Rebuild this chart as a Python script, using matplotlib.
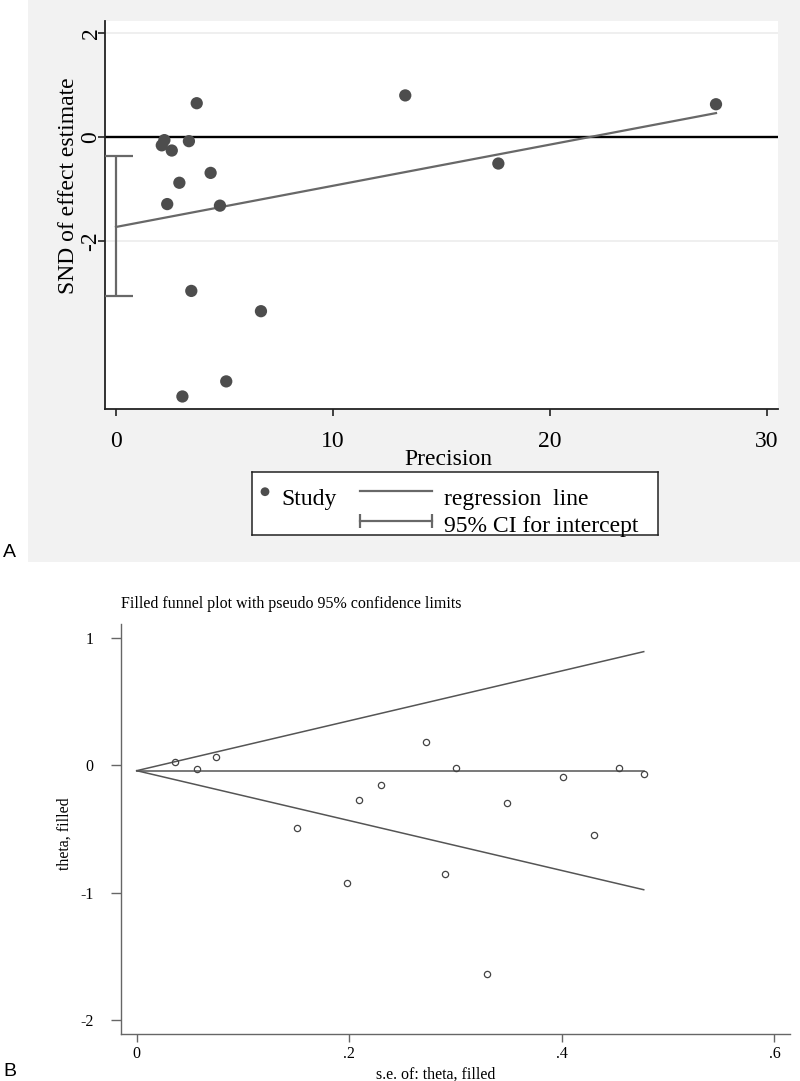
import numpy as np
import matplotlib
matplotlib.use('Agg')
import matplotlib.pyplot as plt
from matplotlib.patches import Rectangle
from matplotlib.ticker import FuncFormatter

plt.rcParams['font.family'] = ['Liberation Serif', 'DejaVu Serif']
plt.rcParams['axes.unicode_minus'] = False

# Panel A: Egger (Galbraith-type) regression data
precision = [3.72, 2.23, 2.11, 2.57, 3.36, 4.36, 2.92, 2.36, 4.79, 3.47,
             6.68, 5.08, 3.06, 13.33, 17.62, 27.65]
snd = [0.65, -0.06, -0.16, -0.26, -0.08, -0.69, -0.88, -1.29, -1.32, -2.96,
       -3.35, -4.70, -4.99, 0.80, -0.51, 0.63]
egger_intercept = -1.73
egger_slope = 0.0792
intercept_ci = [-3.06, -0.365]

# Panel B: filled funnel plot data
se_theta = [0.036, 0.057, 0.075, 0.151, 0.209, 0.230, 0.272, 0.300, 0.348,
            0.401, 0.430, 0.454, 0.477, 0.198, 0.290, 0.330]
theta = [0.024, -0.031, 0.068, -0.495, -0.270, -0.155, 0.181, -0.021, -0.294,
         -0.094, -0.550, -0.019, -0.066, -0.922, -0.851, -1.639]
theta_pooled = -0.042

W, H = 800, 1081


def box(x0, y0, x1, y1):
    # pixel box (top-left origin) -> figure fraction rect
    return [x0 / W, 1 - y1 / H, (x1 - x0) / W, (y1 - y0) / H]


def fx(x):
    return x / W


def fy(y):
    return 1 - y / H


fig = plt.figure(figsize=(8, 10.81), dpi=100, facecolor='white')

# gray graph region behind panel A
fig.patches.append(Rectangle((28 / W, fy(562)), (W - 28) / W, 562 / H,
                             transform=fig.transFigure, facecolor='#f2f2f2',
                             edgecolor='none', zorder=-5))

dot_col = '#4d4d4d'
line_col = '#686868'
fsA = 17

# ---------------- Panel A ----------------
axA = fig.add_axes(box(105, 21, 778, 409))
axA.set_facecolor('white')
axA.set_xlim(-0.507, 30.507)
axA.set_ylim(-5.231, 2.231)
axA.set_yticks([-2, 0, 2])
axA.set_xticks([0, 10, 20, 30])
axA.grid(axis='y', color='#ececec', lw=1.2)
axA.set_axisbelow(True)
for s in ['top', 'right']:
    axA.spines[s].set_visible(False)
for s in ['left', 'bottom']:
    axA.spines[s].set_color('#222222')
    axA.spines[s].set_linewidth(1.3)
axA.tick_params(axis='x', direction='out', length=5, width=1.2, color='#222222',
                labelsize=fsA, pad=11)
axA.tick_params(axis='y', direction='out', length=5, width=1.2, color='#222222',
                labelsize=fsA, pad=-2.5)
for lab in axA.get_yticklabels():
    lab.set_rotation(90)
    lab.set_va('center')

axA.axhline(0, color='black', lw=1.7, zorder=2)
xr = np.array([0, max(precision)])
axA.plot(xr, egger_intercept + egger_slope * xr, color=line_col, lw=1.6, zorder=3)
ci_mid = (intercept_ci[0] + intercept_ci[1]) / 2
ci_half = (intercept_ci[1] - intercept_ci[0]) / 2
axA.errorbar([0], [ci_mid], yerr=[ci_half], fmt='none', ecolor=line_col,
             elinewidth=1.6, capsize=12, capthick=1.6, zorder=3)
axA.scatter(precision, snd, s=78, color=dot_col, edgecolors='none', zorder=4)

fig.text(fx(68), fy(186), 'SND of effect estimate', rotation=90, ha='center',
         va='center', fontsize=fsA)
fig.text(fx(448), fy(465), 'Precision', ha='center', va='baseline', fontsize=fsA)

# legend key (drawn in pixel coordinates of the box)
axL = fig.add_axes(box(252.3, 471.7, 658, 535))
axL.set_xlim(252.3, 658)
axL.set_ylim(535, 471.7)
axL.set_autoscale_on(False)
axL.set_xticks([])
axL.set_yticks([])
for s in axL.spines.values():
    s.set_color('#222222')
    s.set_linewidth(1.1)
axL.scatter([265], [491.7], s=40, color=dot_col, edgecolors='none')
axL.text(281.7, 505, 'Study', ha='left', va='baseline', fontsize=fsA)
axL.plot([360, 432.3], [490.7, 490.7], color=line_col, lw=1.6)
axL.text(444, 505, 'regression  line', ha='left', va='baseline', fontsize=fsA)
axL.plot([359.5, 431.7], [520.7, 520.7], color=line_col, lw=1.6,
         marker='|', markersize=10, markeredgewidth=1.6)
axL.text(444, 531.7, '95% CI for intercept', ha='left', va='baseline', fontsize=fsA)

fig.text(3 / W, fy(557), 'A', family='Liberation Sans', fontsize=14,
         ha='left', va='baseline')

# ---------------- Panel B ----------------
fsB = 11.5
axB = fig.add_axes(box(120.7, 624, 790, 1033.5))
axB.set_xlim(-0.01505, 0.6146)
axB.set_ylim(-2.106, 1.110)
axB.set_xticks([0, 0.2, 0.4, 0.6])
axB.set_yticks([-2, -1, 0, 1])
axB.xaxis.set_major_formatter(FuncFormatter(lambda v, p: '0' if v == 0 else ('%.1f' % v).lstrip('0')))
for s in ['top', 'right']:
    axB.spines[s].set_visible(False)
for s in ['left', 'bottom']:
    axB.spines[s].set_color('#666666')
    axB.spines[s].set_linewidth(1.0)
axB.tick_params(axis='y', direction='out', length=7, width=1.0, color='#666666',
                labelsize=fsB, pad=12.5)
axB.tick_params(axis='x', direction='out', length=6, width=1.0, color='#666666',
                labelsize=fsB, pad=3)

se_max = max(se_theta)
se_line = np.array([0, se_max])
axB.plot(se_line, [theta_pooled, theta_pooled], color='#555555', lw=1.1)
axB.plot(se_line, theta_pooled + 1.96 * se_line, color='#555555', lw=1.1)
axB.plot(se_line, theta_pooled - 1.96 * se_line, color='#555555', lw=1.1)
axB.plot(se_theta, theta, linestyle='none', marker='o', markersize=4.5,
         markerfacecolor='none', markeredgecolor='#444444', markeredgewidth=0.9)

fig.text(fx(121), fy(608.3), 'Filled funnel plot with pseudo 95% confidence limits',
         ha='left', va='baseline', fontsize=fsB)
fig.text(fx(65), fy(834), 'theta, filled', rotation=90, ha='center', va='center',
         fontsize=fsB)
fig.text(fx(436), fy(1079), 's.e. of: theta, filled', ha='center', va='baseline',
         fontsize=fsB)
fig.text(3 / W, fy(1076), 'B', family='Liberation Sans', fontsize=14,
         ha='left', va='baseline')

fig.savefig('out.png', dpi=100)
